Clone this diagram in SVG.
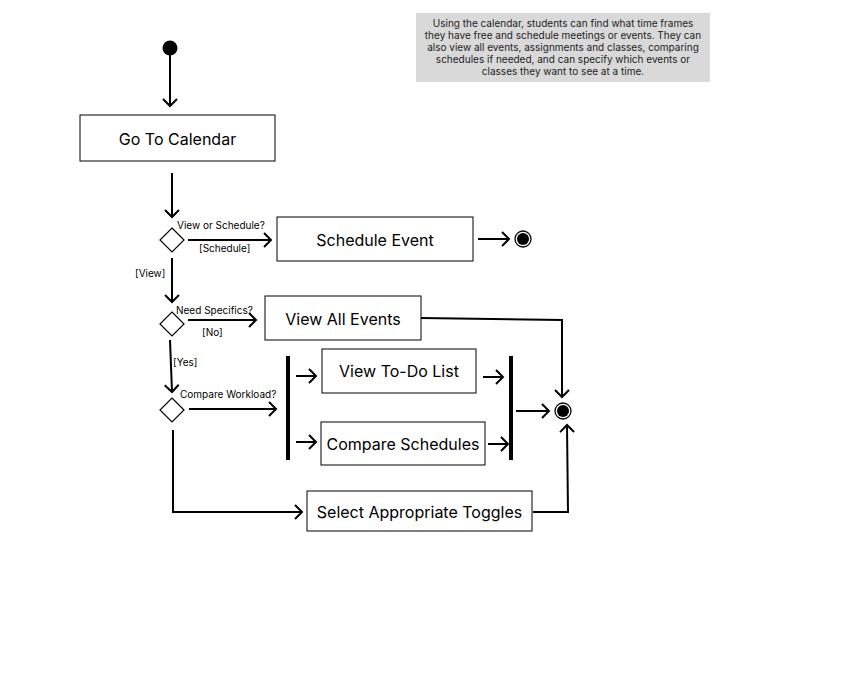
<svg xmlns="http://www.w3.org/2000/svg" width="868" height="676" viewBox="0 0 868 676">
<style>
text{font-family:Inter,"Noto Sans","Liberation Sans",sans-serif;fill:#000}
.box{fill:#fff;stroke:#000;stroke-width:1}
.lbl{font-size:16px;text-anchor:middle}
.small{font-size:10px}
.edge{fill:none;stroke:#000;stroke-width:2}
.dia{fill:#fff;stroke:#000;stroke-width:1.2}
.bar{fill:#000}
.note{font-size:10px;text-anchor:middle;fill:#222}
</style>
<defs>
<marker id="ah" markerUnits="userSpaceOnUse" markerWidth="14" markerHeight="16" refX="10" refY="8" orient="auto">
<path d="M3,1 L10,8 L3,15" fill="none" stroke="#000" stroke-width="2"/>
</marker>
</defs>
<rect width="868" height="676" fill="#fff"/>
<g id="note">
<rect x="416" y="13" width="294" height="69" fill="#d9d9d9"/>
<text class="note" x="563" y="27">Using the calendar, students can find what time frames</text>
<text class="note" x="563" y="39">they have free and schedule meetings or events. They can</text>
<text class="note" x="563" y="51">also view all events, assignments and classes, comparing</text>
<text class="note" x="563" y="63">schedules if needed, and can specify which events or</text>
<text class="note" x="563" y="75">classes they want to see at a time.</text>
</g>
<g id="connectors">
<path class="edge" d="M170,55 V106" marker-end="url(#ah)"/>
<path class="edge" d="M172,173 V217" marker-end="url(#ah)"/>
<path class="edge" d="M188,240 H271" marker-end="url(#ah)"/>
<path class="edge" d="M478,239 H509" marker-end="url(#ah)"/>
<path class="edge" d="M172,258 V302" marker-end="url(#ah)"/>
<path class="edge" d="M188,320 H256" marker-end="url(#ah)"/>
<path class="edge" d="M421,318 L562,320 V397" marker-end="url(#ah)"/>
<path class="edge" d="M170,340 L172,392" marker-end="url(#ah)"/>
<path class="edge" d="M189,409 H276" marker-end="url(#ah)"/>
<path class="edge" d="M296,376 H316" marker-end="url(#ah)"/>
<path class="edge" d="M296,442 H316" marker-end="url(#ah)"/>
<path class="edge" d="M483,377 H503" marker-end="url(#ah)"/>
<path class="edge" d="M488,444 H508" marker-end="url(#ah)"/>
<path class="edge" d="M516,411 H549" marker-end="url(#ah)"/>
<path class="edge" d="M173,430 V512 H302" marker-end="url(#ah)"/>
<path class="edge" d="M533,512 H568 L567,425" marker-end="url(#ah)"/>
<text class="small" x="199" y="252">[Schedule]</text>
<text class="small" x="135" y="277">[View]</text>
<text class="small" x="202" y="336">[No]</text>
<text class="small" x="173" y="366">[Yes]</text>
</g>
<g id="start"><circle cx="170" cy="48" r="7.5" fill="#000"/></g>
<g id="goto">
<rect class="box" x="80" y="115" width="195" height="46"/>
<text class="lbl" x="177.5" y="145">Go To Calendar</text>
</g>
<g id="d1">
<path class="dia" d="M172,228 L184,240 L172,252 L160,240 Z"/>
<text class="small" x="177" y="229">View or Schedule?</text>
</g>
<g id="schedule">
<rect class="box" x="277" y="217" width="196" height="44"/>
<text class="lbl" x="375" y="246">Schedule Event</text>
</g>
<g id="end1">
<circle cx="523" cy="239" r="8" fill="#fff" stroke="#000" stroke-width="1.3"/>
<circle cx="523" cy="239" r="6" fill="#000"/>
</g>
<g id="d2">
<path class="dia" d="M172,312 L184,324 L172,336 L160,324 Z"/>
<text class="small" x="176" y="314">Need Specifics?</text>
</g>
<g id="viewall">
<rect class="box" x="265" y="296" width="156" height="44"/>
<text class="lbl" x="343" y="325">View All Events</text>
</g>
<g id="d3">
<path class="dia" d="M172,398 L184,410 L172,422 L160,410 Z"/>
<text class="small" x="180" y="398">Compare Workload?</text>
</g>
<g id="fork"><rect class="bar" x="286" y="356" width="4" height="104"/></g>
<g id="todo">
<rect class="box" x="322" y="349" width="154" height="44"/>
<text class="lbl" x="399" y="377">View To-Do List</text>
</g>
<g id="compare">
<rect class="box" x="321" y="422" width="164" height="43"/>
<text class="lbl" x="403" y="450">Compare Schedules</text>
</g>
<g id="join"><rect class="bar" x="509" y="356" width="4" height="104"/></g>
<g id="end2">
<circle cx="563" cy="411" r="8" fill="#fff" stroke="#000" stroke-width="1.3"/>
<circle cx="563" cy="411" r="6" fill="#000"/>
</g>
<g id="toggles">
<rect class="box" x="307" y="491" width="225" height="40"/>
<text class="lbl" x="419.5" y="518">Select Appropriate Toggles</text>
</g>
</svg>
